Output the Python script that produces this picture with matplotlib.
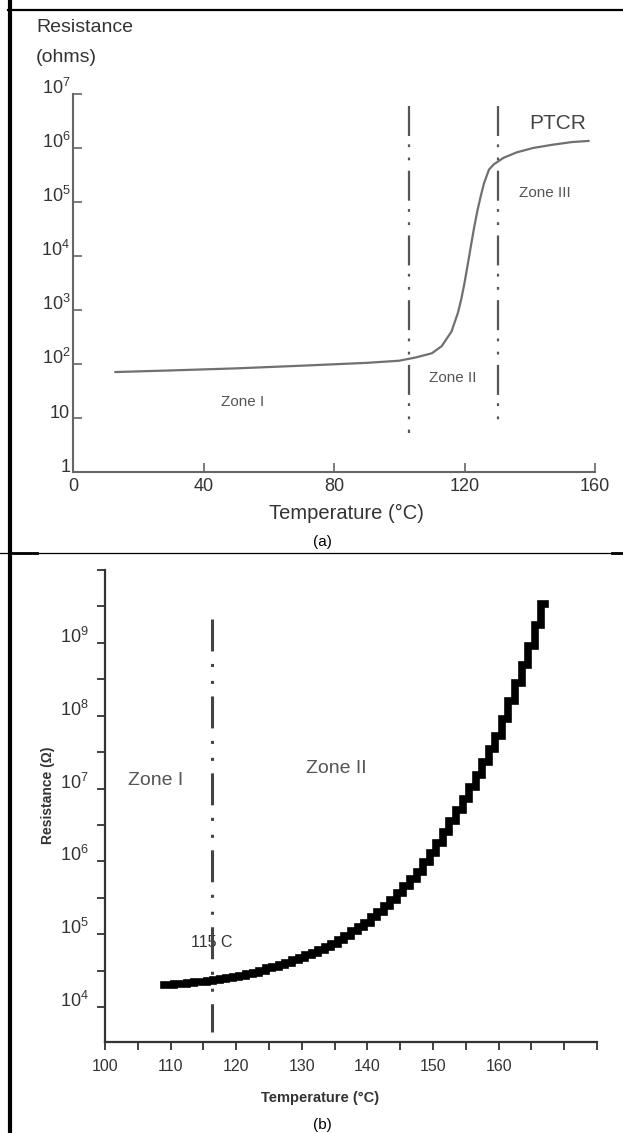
import matplotlib
matplotlib.use("Agg")
import matplotlib.pyplot as plt
from matplotlib.lines import Line2D

plt.rcParams["lines.scale_dashes"] = False
plt.rcParams["font.family"] = ["Liberation Sans", "DejaVu Sans"]

# ── data: panel (a) PTCR curve ──────────────────────────────────────────
temp_a = [13, 30, 50, 70, 90, 100, 105, 110, 113, 116, 118, 119, 120, 121,
          122, 123, 124, 125, 126, 127.5, 129, 132, 136, 141, 147, 153, 158]
res_a = [71, 76, 83, 93, 105, 115, 132, 158, 214, 398, 891, 1580, 3160,
         7000, 1.58e4, 3.5e4, 7.08e4, 1.3e5, 2.24e5, 3.98e5, 5.0e5, 6.6e5,
         8.3e5, 1.0e6, 1.15e6, 1.29e6, 1.35e6]
zone_bounds_a = [102.9, 130.2]
zone_span_a = (5.2, 5.9e6)   # vertical extent of the zone markers (ohms)
zone_span_a2 = (6.8, 6.0e6)
xticks_a = [0, 40, 80, 120, 160]
yticks_a = [1, 10, 1e2, 1e3, 1e4, 1e5, 1e6, 1e7]
ylabels_a = ["1", "10", r"$\mathregular{10^{2}}$", r"$\mathregular{10^{3}}$",
             r"$\mathregular{10^{4}}$", r"$\mathregular{10^{5}}$",
             r"$\mathregular{10^{6}}$", r"$\mathregular{10^{7}}$"]

# ── data: panel (b) stepped curve, one reading per °C ───────────────────
temp_b = list(range(109, 168))
logres_b = [4.30, 4.30, 4.31, 4.32, 4.33, 4.34, 4.35, 4.36, 4.37, 4.38, 4.40,
            4.41, 4.43, 4.45, 4.47, 4.50, 4.53, 4.55, 4.58, 4.61, 4.64, 4.67,
            4.71, 4.74, 4.78, 4.83, 4.87, 4.92, 4.98, 5.04, 5.10, 5.16, 5.23,
            5.31, 5.39, 5.47, 5.56, 5.66, 5.76, 5.86, 5.99, 6.12, 6.25, 6.40,
            6.55, 6.70, 6.86, 7.02, 7.18, 7.36, 7.54, 7.72, 7.96, 8.20, 8.45,
            8.70, 8.95, 9.25, 9.53]
res_b = [10 ** v for v in logres_b]
zone_bound_b = 116.3
zone_span_b = (10 ** 3.66, 10 ** 9.33)
xticks_b = list(range(100, 180, 5))
xlabels_b = [str(t) if t % 10 == 0 and t <= 160 else "" for t in xticks_b]
yticks_b = [10 ** (k / 2) for k in range(8, 21)]
ylabels_b = [r"$\mathregular{10^{%d}}$" % (k // 2) if k % 2 == 0 and k < 20 else ""
             for k in range(8, 21)]

fig = plt.figure(figsize=(6.23, 11.33), dpi=100)
W, H = 623, 1133


def box(l, t, r, b):
    return [l / W, 1 - b / H, (r - l) / W, (b - t) / H]


# ── panel (a) ───────────────────────────────────────────────────────────
ax = fig.add_axes(box(73, 94, 595, 472))
ax.set_yscale("log")
ax.plot(temp_a, res_a, color="#707070", lw=1.6)
dash_a = (0, (21.6, 6, 2, 7.5, 2, 7.5))
ax.plot([zone_bounds_a[0]] * 2, zone_span_a[::-1], color="#555555", lw=1.6,
        ls=dash_a)
ax.plot([zone_bounds_a[1]] * 2, zone_span_a2[::-1], color="#555555", lw=1.6,
        ls=dash_a)
ax.text(52, 10 ** 1.3, "Zone I", fontsize=11, color="#555555", ha="center", va="center")
ax.text(116.4, 10 ** 1.74, "Zone II", fontsize=11, color="#555555", ha="center", va="center")
ax.text(144.6, 10 ** 5.17, "Zone III", fontsize=11, color="#555555", ha="center", va="center")
ax.text(148.7, 10 ** 6.46, "PTCR", fontsize=15, color="#444444", ha="center", va="center")
ax.set_xlim(0, 160)
ax.set_ylim(1, 1e7)
ax.set_xticks(xticks_a)
ax.set_xticklabels([str(t) for t in xticks_a])
ax.set_yticks(yticks_a)
ax.set_yticklabels(ylabels_a)
ax.minorticks_off()
for s in ("top", "right"):
    ax.spines[s].set_visible(False)
for s in ("left", "bottom"):
    ax.spines[s].set_color("#666666")
    ax.spines[s].set_linewidth(1.5)
ax.tick_params(direction="in", length=6.5, width=1.2, color="#666666",
               labelsize=13, labelcolor="#333333")
ax.tick_params(axis="y", pad=2)
ax.tick_params(axis="x", pad=4)
for lbl in ax.get_yticklabels():
    lbl.set_va("baseline")
ax.set_xlabel("Temperature (°C)", fontsize=14.5, color="#333333")
ax.xaxis.label.set_va("center")
ax.xaxis.set_label_coords((346 - 73) / 522, (472 - 513) / 378)
fig.text(36 / W, 1 - 27 / H, "Resistance", fontsize=14, color="#333333", va="center")
fig.text(36 / W, 1 - 58 / H, "(ohms)", fontsize=14, color="#333333", va="center")
fig.text(322 / W, 1 - 542 / H, "(a)", fontsize=11, ha="center", va="center")

# ── panel (b) ───────────────────────────────────────────────────────────
bx = fig.add_axes(box(105, 570, 597, 1042))
bx.set_yscale("log")
bx.plot([zone_bound_b] * 2, zone_span_b[::-1], color="#444444", lw=2.2,
        ls=(0, (23, 9, 2.2, 10, 2.2, 9)), zorder=3)
bx.text(zone_bound_b, 10 ** 4.88, "115 C", fontsize=11.5,
        color="#333333", ha="center", va="center", zorder=2)
bx.plot(temp_b, res_b, color="black", lw=5.5, drawstyle="steps-mid",
        solid_joinstyle="miter", zorder=4)
bx.text(107.75, 10 ** 7.11, "Zone I", fontsize=14, color="#555555", ha="center", va="center")
bx.text(135.3, 10 ** 7.27, "Zone II", fontsize=14, color="#555555", ha="center", va="center")
bx.set_xlim(100, 175)
bx.set_ylim(10 ** 3.52, 1e10)
bx.set_xticks(xticks_b)
bx.set_xticklabels(xlabels_b)
bx.set_yticks(yticks_b)
bx.set_yticklabels(ylabels_b)
bx.minorticks_off()
for s in ("top", "right"):
    bx.spines[s].set_visible(False)
for s in ("left", "bottom"):
    bx.spines[s].set_color("#333333")
    bx.spines[s].set_linewidth(1.6)
bx.tick_params(direction="out", length=6, width=1.3, color="#333333",
               labelcolor="#333333")
bx.tick_params(axis="x", labelsize=11.5, pad=6)
bx.tick_params(axis="y", labelsize=13, pad=6)
for lbl in bx.get_yticklabels():
    lbl.set_va("baseline")
bx.set_xlabel("Temperature (°C)", fontsize=10.5, fontweight="bold", color="#333333")
bx.xaxis.label.set_va("center")
bx.xaxis.set_label_coords((320 - 105) / 492, (1042 - 1098) / 472)
bx.set_ylabel("Resistance (Ω)", fontsize=10, fontweight="bold", color="#333333")
bx.yaxis.label.set_va("center")
bx.yaxis.set_label_coords((48 - 105) / 492, (1042 - 795) / 472)
fig.text(322 / W, 1 - 1125 / H, "(b)", fontsize=11, ha="center", va="center")

# ── frame lines ─────────────────────────────────────────────────────────
fig.add_artist(Line2D([10 / W, 10 / W], [0, 1], color="black", lw=3))
fig.add_artist(Line2D([8 / W, 1], [1 - 10 / H] * 2, color="black", lw=1.6))
fig.add_artist(Line2D([0, 1], [1 - 553 / H] * 2, color="black", lw=0.9))
fig.add_artist(Line2D([10 / W, 37 / W], [1 - 553 / H] * 2, color="black", lw=2))
fig.add_artist(Line2D([612 / W, 1], [1 - 553 / H] * 2, color="black", lw=2))

fig.savefig("out.png", dpi=100)
